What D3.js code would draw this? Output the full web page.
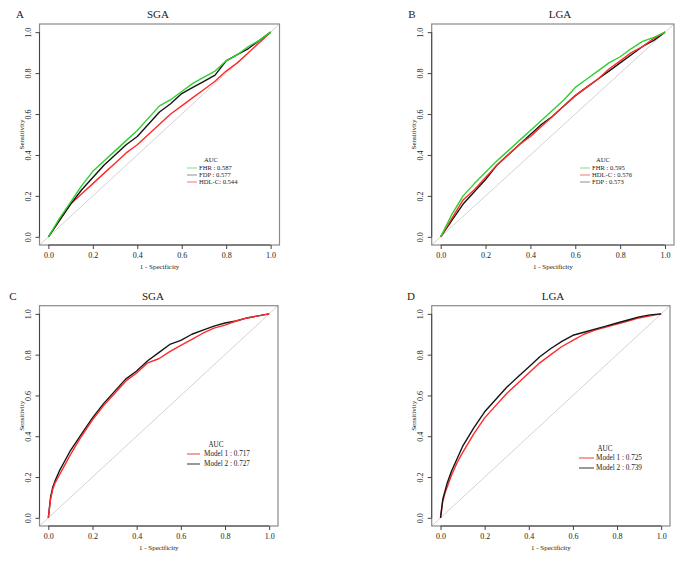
<!DOCTYPE html>
<html><head><meta charset="utf-8">
<script src="https://cdn.jsdelivr.net/npm/d3@7"></script>
<style>body{margin:0;background:#fff}svg{display:block}text{font-family:"Liberation Serif","Times New Roman",serif;font-weight:400;fill:#222}</style>
</head><body><svg id="c" width="685" height="562"></svg>
<script>
// ---- data ----
const tickLabels = ["0.0","0.2","0.4","0.6","0.8","1.0"];
const tickValues = [0,0.2,0.4,0.6,0.8,1.0];
const fprAB = [0,0.05,0.1,0.15,0.2,0.25,0.3,0.35,0.4,0.45,0.5,0.55,0.6,0.65,0.7,0.75,0.8,0.85,0.9,0.95,1];
const A_FHR = [0,0.09,0.17,0.25,0.32,0.37,0.42,0.47,0.52,0.58,0.64,0.67,0.71,0.75,0.78,0.81,0.86,0.89,0.93,0.96,1];
const A_FDP = [0,0.08,0.16,0.23,0.29,0.35,0.40,0.45,0.49,0.55,0.61,0.65,0.70,0.73,0.76,0.79,0.86,0.89,0.92,0.96,1];
const A_HDL = [0,0.08,0.16,0.21,0.26,0.31,0.36,0.41,0.45,0.50,0.55,0.60,0.64,0.68,0.72,0.76,0.81,0.85,0.90,0.95,1];
const B_FHR = [0,0.11,0.20,0.26,0.315,0.37,0.42,0.47,0.52,0.57,0.62,0.67,0.73,0.77,0.81,0.85,0.88,0.92,0.955,0.975,1];
const B_HDL = [0,0.09,0.18,0.23,0.29,0.35,0.40,0.45,0.49,0.54,0.59,0.64,0.69,0.73,0.77,0.82,0.86,0.90,0.93,0.97,1];
const B_FDP = [0,0.08,0.16,0.22,0.28,0.35,0.40,0.45,0.50,0.55,0.59,0.64,0.69,0.73,0.77,0.81,0.85,0.89,0.93,0.96,1];
const fprCD = [0,0.01,0.02,0.03,0.05,0.075,0.1,0.15,0.2,0.25,0.3,0.35,0.4,0.45,0.5,0.55,0.6,0.65,0.7,0.75,0.8,0.85,0.9,0.95,1];
const C_M1 = [0,0.09,0.14,0.17,0.21,0.26,0.31,0.40,0.48,0.55,0.61,0.67,0.71,0.76,0.78,0.815,0.845,0.875,0.905,0.93,0.945,0.965,0.98,0.99,1];
const C_M2 = [0,0.10,0.15,0.18,0.23,0.28,0.33,0.41,0.49,0.56,0.62,0.68,0.72,0.77,0.81,0.85,0.87,0.90,0.92,0.94,0.955,0.965,0.98,0.99,1];
const D_M1 = [0,0.08,0.12,0.15,0.21,0.27,0.32,0.41,0.49,0.55,0.61,0.66,0.71,0.76,0.80,0.84,0.87,0.90,0.92,0.935,0.95,0.965,0.98,0.99,1];
const D_M2 = [0,0.09,0.13,0.17,0.23,0.29,0.35,0.44,0.52,0.58,0.64,0.69,0.74,0.79,0.83,0.865,0.895,0.91,0.925,0.94,0.955,0.97,0.985,0.995,1];
const legendA = ["FHR : 0.587","FDP : 0.577","HDL-C: 0.544"];
const legendB = ["FHR : 0.595","HDL-C : 0.576","FDP : 0.573"];
const legendC = ["Model 1 : 0.717","Model 2 : 0.727"];
const legendD = ["Model 1 : 0.725","Model 2 : 0.739"];

const GREEN="#2fd02f", RED="#ff2a2a", BLACK="#151515";
const FONT = "Liberation Serif";

const panels = [
  {letter:"A", title:"SGA", box:[39.5,24,279.5,245], tx:158, lx:20, x:fprAB,
   series:[[A_HDL,RED],[A_FDP,BLACK],[A_FHR,GREEN]],
   leg:{labels:legendA, colors:["#8ee08e","#9a9a9a","#f08080"], x0:187, x1:197, tx:199, ax:211, ay:159, y0:168, dy:7, fs:6.6}},
  {letter:"B", title:"LGA", box:[431.7,24,674,245], tx:560, lx:412, x:fprAB,
   series:[[B_FDP,BLACK],[B_HDL,RED],[B_FHR,GREEN]],
   leg:{labels:legendB, colors:["#8ee08e","#f08080","#9a9a9a"], x0:580, x1:590, tx:592, ax:603, ay:159, y0:168, dy:7, fs:6.6}},
  {letter:"C", title:"SGA", box:[39.5,305.7,278,526], tx:153, lx:13, x:fprCD,
   series:[[C_M2,BLACK],[C_M1,RED]],
   leg:{labels:legendC, colors:["#f05050","#444"], x0:187, x1:200, tx:204, ax:216, ay:444, y0:454, dy:10, fs:7.2}},
  {letter:"D", title:"LGA", box:[431.7,305.7,670,526], tx:553, lx:411, x:fprCD,
   series:[[D_M1,RED],[D_M2,BLACK]],
   leg:{labels:legendD, colors:["#f05050","#444"], x0:579, x1:594, tx:596, ax:605, ay:448, y0:458, dy:10, fs:7.2}}
];

const svg = d3.select("#c");
panels.forEach((p,i)=>{
  const [L,T,R,B] = p.box;
  const x = d3.scaleLinear().domain([-0.04,1.04]).range([L,R]);
  const y = d3.scaleLinear().domain([-0.04,1.04]).range([B,T]);
  const g = svg.append("g");
  const clipId = "clip"+i;
  g.append("clipPath").attr("id",clipId).append("rect").attr("x",L).attr("y",T).attr("width",R-L).attr("height",B-T);
  // diagonal
  g.append("line").attr("clip-path",`url(#${clipId})`)
    .attr("x1",x(-0.04)).attr("y1",y(-0.04)).attr("x2",x(1.04)).attr("y2",y(1.04))
    .attr("stroke","#c8c8c8").attr("stroke-width",0.8);
  // curves
  const line = d3.line().x(d=>x(d[0])).y(d=>y(d[1]));
  p.series.forEach(([vals,col])=>{
    g.append("path").datum(p.x.map((v,k)=>[v,vals[k]]))
      .attr("d",line).attr("fill","none").attr("stroke",col).attr("stroke-width",1.4)
      .attr("stroke-linejoin","round");
  });
  // box
  g.append("rect").attr("x",L).attr("y",T).attr("width",R-L).attr("height",B-T)
    .attr("fill","none").attr("stroke","#8a8a8a").attr("stroke-width",1.2);
  // axes
  const xa = d3.axisBottom(x).tickValues(tickValues).tickFormat((d,k)=>tickLabels[k]).tickSize(4).tickPadding(3);
  const xg = g.append("g").attr("transform",`translate(0,${B})`).call(xa).attr("font-family",FONT);
  xg.select(".domain").attr("d",`M${x(0)},0H${x(1)}`).attr("stroke","#444");
  xg.selectAll(".tick line").attr("stroke","#444");
  xg.selectAll("text").attr("font-size",8).attr("font-family",FONT).attr("fill","#222");
  const ya = d3.axisLeft(y).tickValues(tickValues).tickFormat((d,k)=>tickLabels[k]).tickSize(4).tickPadding(3);
  const yg = g.append("g").attr("transform",`translate(${L},0)`).call(ya).attr("font-family",FONT);
  yg.select(".domain").attr("d",`M0,${y(0)}V${y(1)}`).attr("stroke","#444");
  yg.selectAll(".tick line").attr("stroke","#444");
  yg.selectAll(".tick text").attr("font-size",8).attr("font-family",FONT).attr("fill","#222")
    .attr("text-anchor","middle").attr("dy",0).attr("transform","rotate(-90)").attr("x",0).attr("y",-9);
  // titles
  g.append("text").attr("x",p.tx).attr("y",T-6).attr("text-anchor","middle").attr("font-size",11).attr("font-family",FONT).text(p.title);
  g.append("text").attr("x",p.lx).attr("y",T-6).attr("text-anchor","middle").attr("font-size",11).attr("font-family",FONT).text(p.letter);
  g.append("text").attr("x",(x(0)+x(1))/2).attr("y",B+24).attr("text-anchor","middle").attr("font-size",7).attr("font-family",FONT).text("1 - Specificity");
  g.append("text").attr("transform",`translate(${L-16},${(T+B)/2}) rotate(-90)`).attr("text-anchor","middle").attr("font-size",7).attr("font-family",FONT).text("Sensitivity");
  // legend
  const lg = p.leg;
  g.append("text").attr("x",lg.ax).attr("y",lg.ay+2.5).attr("text-anchor","middle").attr("font-size",lg.fs).attr("font-family",FONT).text("AUC");
  lg.labels.forEach((lab,k)=>{
    const yy = lg.y0 + k*lg.dy;
    g.append("line").attr("x1",lg.x0).attr("x2",lg.x1).attr("y1",yy).attr("y2",yy).attr("stroke",lg.colors[k]).attr("stroke-width",1.1);
    g.append("text").attr("x",lg.tx).attr("y",yy+2.3).attr("font-size",lg.fs).attr("font-family",FONT).text(lab);
  });
});
</script></body></html>
